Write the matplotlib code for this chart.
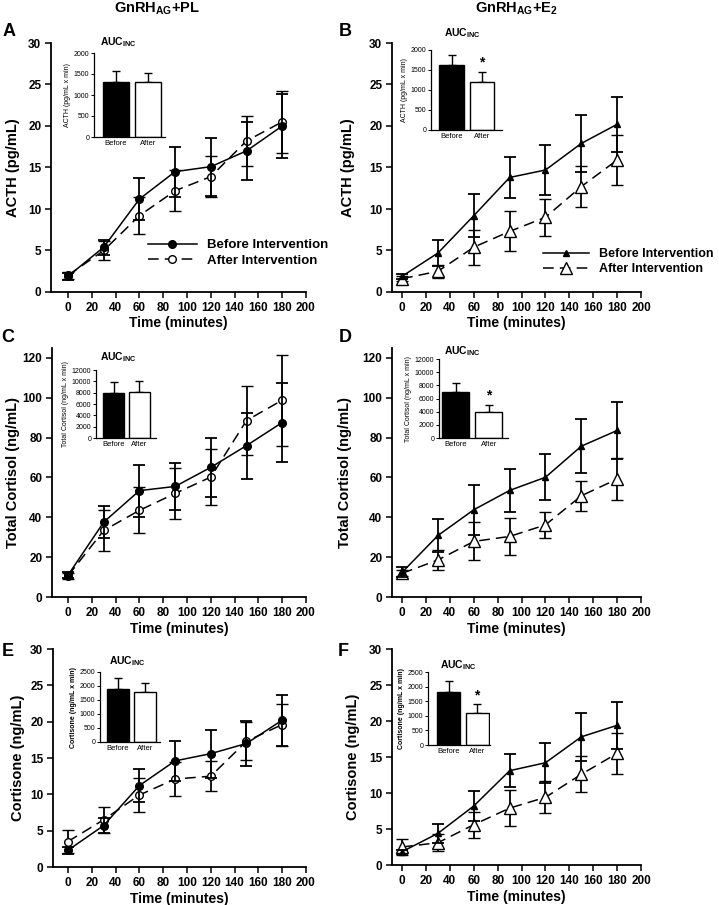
import matplotlib
matplotlib.use("Agg")
import matplotlib.pyplot as plt
from matplotlib.lines import Line2D

plt.rcParams['font.family'] = ['Liberation Sans', 'DejaVu Sans']
plt.rcParams['mathtext.fontset'] = 'custom'
plt.rcParams['mathtext.rm'] = 'Liberation Sans'
plt.rcParams['mathtext.bf'] = 'Liberation Sans:bold'

# ---------------- data ----------------
times = [0, 30, 60, 90, 120, 150, 180]

acth_pl_before = [1.9, 5.4, 11.2, 14.5, 15.1, 17.0, 20.0]
acth_pl_before_err = [0.4, 0.9, 2.5, 3.0, 3.5, 3.5, 3.9]
acth_pl_after = [2.0, 5.0, 9.2, 12.2, 13.9, 18.2, 20.5]
acth_pl_after_err = [0.4, 1.2, 2.2, 2.5, 2.5, 3.0, 3.7]

acth_e2_before = [1.9, 4.7, 9.2, 13.8, 14.7, 17.9, 20.2]
acth_e2_before_err = [0.3, 1.6, 2.6, 2.5, 3.0, 3.4, 3.3]
acth_e2_after = [1.6, 2.5, 5.4, 7.3, 9.0, 12.7, 15.9]
acth_e2_after_err = [0.3, 0.8, 2.1, 2.4, 2.2, 2.5, 3.0]

cort_pl_before = [11.0, 37.6, 53.4, 55.5, 65.1, 76.0, 87.6]
cort_pl_before_err = [1.5, 8.0, 13.0, 11.8, 14.8, 16.6, 19.7]
cort_pl_after = [10.7, 33.4, 43.5, 52.0, 60.2, 88.6, 98.8]
cort_pl_after_err = [1.5, 10.2, 11.6, 12.7, 13.9, 17.5, 22.9]

cort_e2_before = [12.4, 30.9, 43.8, 53.5, 60.1, 75.7, 83.6]
cort_e2_before_err = [2.5, 8.5, 12.6, 10.9, 11.5, 13.6, 14.4]
cort_e2_after = [11.9, 18.6, 27.9, 30.4, 36.2, 50.8, 59.2]
cort_e2_after_err = [1.5, 5.0, 9.5, 9.1, 6.5, 7.5, 10.4]

cortisone_pl_before = [2.3, 5.7, 11.2, 14.6, 15.6, 17.0, 20.2]
cortisone_pl_before_err = [0.5, 1.0, 2.3, 2.8, 3.3, 3.1, 3.5]
cortisone_pl_after = [3.5, 6.5, 9.9, 12.1, 12.5, 17.3, 19.6]
cortisone_pl_after_err = [1.6, 1.8, 2.3, 2.3, 2.1, 2.6, 2.9]

cortisone_e2_before = [1.85, 4.4, 8.2, 13.1, 14.2, 17.8, 19.4]
cortisone_e2_before_err = [0.3, 1.3, 2.1, 2.3, 2.8, 3.3, 3.3]
cortisone_e2_after = [2.5, 3.1, 5.6, 7.9, 9.4, 12.6, 15.5]
cortisone_e2_after_err = [1.1, 1.2, 1.8, 2.5, 2.2, 2.5, 2.9]

bar_labels = ["Before", "After"]
auc_acth_pl = [1317, 1302]
auc_acth_pl_err = [246, 230]
auc_acth_e2 = [1617, 1208]
auc_acth_e2_err = [258, 234]
auc_cort_pl = [7900, 8080]
auc_cort_pl_err = [1940, 2050]
auc_cort_e2 = [6960, 3980]
auc_cort_e2_err = [1460, 1060]
auc_cortisone_pl = [1880, 1774]
auc_cortisone_pl_err = [418, 333]
auc_cortisone_e2 = [1812, 1112]
auc_cortisone_e2_err = [380, 276]

legend_labels = ["Before Intervention", "After Intervention"]

# ---------------- layout ----------------
W, H = 719, 905
fig = plt.figure(figsize=(W / 100, H / 100), dpi=100)


def rect(x0, y0, x1, y1):
    return [x0 / W, 1 - y1 / H, (x1 - x0) / W, (y1 - y0) / H]


def style_main(ax, xlim, ylim, yticks, ylabel, ylab_x):
    ax.set_xlim(*xlim)
    ax.set_ylim(*ylim)
    ax.set_xticks(range(0, 201, 20))
    ax.set_yticks(yticks)
    for s in ['top', 'right']:
        ax.spines[s].set_visible(False)
    for s in ['left', 'bottom']:
        ax.spines[s].set_linewidth(1.3)
    ax.tick_params(direction='out', length=4, width=1.1, labelsize=8.5, pad=3)
    for lab in ax.get_xticklabels() + ax.get_yticklabels():
        lab.set_fontweight('bold')
    ax.set_xlabel("Time (minutes)", fontsize=10, fontweight='bold', labelpad=2)
    ax.set_ylabel(ylabel, fontsize=10.5, fontweight='bold')
    ax.yaxis.set_label_coords(ylab_x, 0.5)


def plot_series(ax, b, be, a, ae, marker):
    if marker == 'o':
        bkw = dict(marker='o', ms=5.5, mfc='black', mec='black')
        akw = dict(marker='o', ms=5.5, mfc='white', mec='black', mew=1.0)
    else:
        bkw = dict(marker='^', ms=4.5, mfc='black', mec='black')
        akw = dict(marker='^', ms=8, mfc='white', mec='black', mew=1.0)
    ax.errorbar(times, a, yerr=ae, color='black', lw=1.1, ls=(0, (7, 4)),
                capsize=4.5, elinewidth=1.3, capthick=1.3, zorder=3, **akw)
    ax.errorbar(times, b, yerr=be, color='black', lw=1.1, ls='-',
                capsize=4.5, elinewidth=1.3, capthick=1.3, zorder=4, **bkw)


def inset(r, xlim, vals, errs, ymax, ystep, ylabel, bold_label, star, auc_xy):
    ax = fig.add_axes(rect(*r))
    ax.bar([0, 1], vals, width=0.82, color=['black', 'white'], edgecolor='black',
           linewidth=1.0, zorder=2)
    ax.errorbar([0, 1], vals, yerr=[[0, 0], errs], fmt='none', ecolor='black',
                elinewidth=1.0, capsize=3, capthick=1.0, zorder=1)
    ax.set_xlim(*xlim)
    ax.set_ylim(0, ymax)
    ax.set_yticks(range(0, ymax + 1, ystep))
    ax.set_xticks([0, 1])
    ax.set_xticklabels(bar_labels)
    for s in ['top', 'right']:
        ax.spines[s].set_visible(False)
    for s in ['left', 'bottom']:
        ax.spines[s].set_linewidth(0.9)
    ax.tick_params(axis='y', direction='out', length=2, width=0.7, labelsize=5, pad=1.5)
    ax.tick_params(axis='x', length=0, labelsize=5.5, pad=2.5)
    ax.set_ylabel(ylabel, fontsize=5, fontweight='bold' if bold_label else 'normal',
                  labelpad=2)
    ax.patch.set_alpha(0)
    if star:
        ax.text(1, vals[1] + errs[1] + ymax * 0.03, "*", ha='center', va='bottom',
                fontsize=10, fontweight='bold')
    fig.text(auc_xy[0] / W, 1 - auc_xy[1] / H, r"AUC$_\mathbf{INC}$", ha='center',
             va='center', fontsize=7.5, fontweight='bold')
    return ax


def legend(ax, marker, x, y, size):
    if marker == 'o':
        h1 = Line2D([], [], color='black', lw=1.1, marker='o', ms=5.5, mfc='black')
        h2 = Line2D([], [], color='black', lw=1.1, ls=(0, (7, 4)), marker='o', ms=5.5,
                    mfc='white', mec='black')
    else:
        h1 = Line2D([], [], color='black', lw=1.1, marker='^', ms=4.5, mfc='black')
        h2 = Line2D([], [], color='black', lw=1.1, ls=(0, (7, 4)), marker='^', ms=8,
                    mfc='white', mec='black')
    ax.legend([h1, h2], legend_labels, loc='upper left',
              bbox_to_anchor=(x / W, 1 - y / H), bbox_transform=fig.transFigure,
              frameon=False, handlelength=3.7, handletextpad=0.8, labelspacing=0.25,
              borderpad=0, borderaxespad=0, numpoints=1,
              prop={'size': size, 'weight': 'bold'})


# Panel A
axA = fig.add_axes(rect(51, 43, 306, 292))
plot_series(axA, acth_pl_before, acth_pl_before_err, acth_pl_after, acth_pl_after_err, 'o')
style_main(axA, (-14.3, 200), (0, 30), range(0, 31, 5), "ACTH (pg/mL)", -0.122)
legend(axA, 'o', 148, 239, 9.5)
inset((94, 53, 165, 137), (-0.69, 1.53), auc_acth_pl, auc_acth_pl_err, 2000, 500,
      "ACTH (pg/mL x min)", False, False, (118, 42))

# Panel B
axB = fig.add_axes(rect(392, 43, 641, 292))
plot_series(axB, acth_e2_before, acth_e2_before_err, acth_e2_after, acth_e2_after_err, '^')
style_main(axB, (-8.5, 200), (0, 30), range(0, 31, 5), "ACTH (pg/mL)", -0.149)
legend(axB, '^', 543, 248, 9.0)
inset((431, 50, 502, 130), (-0.68, 1.66), auc_acth_e2, auc_acth_e2_err, 2000, 500,
      "ACTH (pg/mL x min)", False, True, (462, 33))

# Panel C
axC = fig.add_axes(rect(52, 348, 306, 597))
plot_series(axC, cort_pl_before, cort_pl_before_err, cort_pl_after, cort_pl_after_err, 'o')
style_main(axC, (-13.5, 200), (0, 125), range(0, 121, 20), "Total Cortisol (ng/mL)", -0.126)
inset((96, 370, 156, 438), (-0.69, 1.65), auc_cort_pl, auc_cort_pl_err, 12000, 2000,
      "Total Cortisol (ng/mL x min)", False, False, (118, 357))

# Panel D
axD = fig.add_axes(rect(392, 348, 641, 597))
plot_series(axD, cort_e2_before, cort_e2_before_err, cort_e2_after, cort_e2_after_err, '^')
style_main(axD, (-8.5, 200), (0, 125), range(0, 121, 20), "Total Cortisol (ng/mL)", -0.161)
inset((439, 359, 508, 438), (-0.5, 1.58), auc_cort_e2, auc_cort_e2_err, 12000, 2000,
      "Total Cortisol (ng/mL x min)", False, True, (462, 351))

# Panel E
axE = fig.add_axes(rect(53, 649, 306, 867))
plot_series(axE, cortisone_pl_before, cortisone_pl_before_err, cortisone_pl_after,
            cortisone_pl_after_err, 'o')
style_main(axE, (-12.5, 200), (0, 30), range(0, 31, 5), "Cortisone (ng/mL)", -0.111)
inset((100, 672, 160, 742), (-0.67, 1.57), auc_cortisone_pl, auc_cortisone_pl_err, 2500, 500,
      "Cortisone (ng/mL x min)", True, False, (127, 661))

# Panel F
axF = fig.add_axes(rect(392, 649, 641, 865))
plot_series(axF, cortisone_e2_before, cortisone_e2_before_err, cortisone_e2_after,
            cortisone_e2_after_err, '^')
style_main(axF, (-8.5, 200), (0, 30), range(0, 31, 5), "Cortisone (ng/mL)", -0.129)
inset((428, 672, 490, 745), (-0.73, 1.45), auc_cortisone_e2, auc_cortisone_e2_err, 2500, 500,
      "Cortisone (ng/mL x min)", True, True, (458, 665))

# panel letters
for letter, (x, y) in zip("ABCDEF", [(9, 32), (345, 32), (8, 337), (345, 337), (8, 652), (343, 652)]):
    fig.text(x / W, 1 - y / H, letter, ha='center', va='center', fontsize=13, fontweight='bold')

# column titles
fig.text(157 / W, 1 - 9 / H, r"GnRH$_\mathbf{AG}$+PL", ha='center', va='center',
         fontsize=10.5, fontweight='bold')
fig.text(517 / W, 1 - 9 / H, r"GnRH$_\mathbf{AG}$+E$_\mathbf{2}$", ha='center', va='center',
         fontsize=10.5, fontweight='bold')

fig.savefig("out.png", dpi=100)
